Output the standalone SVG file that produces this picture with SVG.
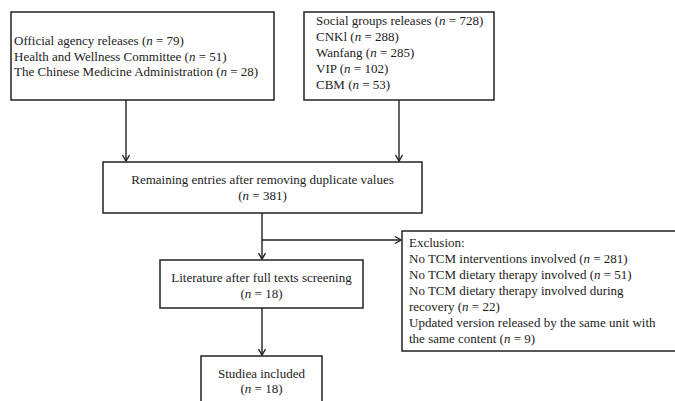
<svg xmlns="http://www.w3.org/2000/svg" width="675" height="401" viewBox="0 0 675 401">
<defs>
<marker id="arr" markerWidth="10" markerHeight="10" refX="8" refY="5" orient="auto" markerUnits="userSpaceOnUse">
<polyline points="2,1.5 8,5 2,8.5" fill="none" stroke="#222" stroke-width="1.4"/>
</marker>
<style>
rect{fill:#fff;stroke:#222;stroke-width:1.5}
text{font-family:"Liberation Serif","Times New Roman",serif;font-size:13px;fill:#222}
.c{text-anchor:middle}
.conn line{stroke:#222;stroke-width:1.4}
</style>
</defs>
<rect x="0" y="0" width="675" height="401" style="fill:#fff;stroke:none"/>
<g class="conn">
<line x1="126" y1="100" x2="126" y2="161" marker-end="url(#arr)"/>
<line x1="399" y1="100" x2="399" y2="161" marker-end="url(#arr)"/>
<line x1="262" y1="213" x2="262" y2="259" marker-end="url(#arr)"/>
<line x1="262" y1="240" x2="401" y2="240" marker-end="url(#arr)"/>
<line x1="262" y1="308" x2="262" y2="355" marker-end="url(#arr)"/>
</g>
<g id="official">
<rect x="11" y="12" width="263" height="88"/>
<text x="14" y="45">Official agency releases (<tspan font-style="italic">n</tspan> = 79)</text>
<text x="14" y="61">Health and Wellness Committee (<tspan font-style="italic">n</tspan> = 51)</text>
<text x="14" y="76">The Chinese Medicine Administration (<tspan font-style="italic">n</tspan> = 28)</text>
</g>
<g id="social">
<rect x="304" y="12" width="190" height="88"/>
<text x="316" y="25">Social groups releases (<tspan font-style="italic">n</tspan> = 728)</text>
<text x="316" y="41">CNKl (<tspan font-style="italic">n</tspan> = 288)</text>
<text x="316" y="57">Wanfang (<tspan font-style="italic">n</tspan> = 285)</text>
<text x="316" y="73">VIP (<tspan font-style="italic">n</tspan> = 102)</text>
<text x="316" y="89">CBM (<tspan font-style="italic">n</tspan> = 53)</text>
</g>
<g id="remaining">
<rect x="103" y="162" width="319" height="51"/>
<text class="c" x="262.5" y="184">Remaining entries after removing duplicate values</text>
<text class="c" x="262.5" y="200">(<tspan font-style="italic">n</tspan> = 381)</text>
</g>
<g id="exclusion">
<rect x="402" y="231" width="300" height="120"/>
<text x="409" y="247">Exclusion:</text>
<text x="409" y="263">No TCM interventions involved (<tspan font-style="italic">n</tspan> = 281)</text>
<text x="409" y="279">No TCM dietary therapy involved (<tspan font-style="italic">n</tspan> = 51)</text>
<text x="409" y="295">No TCM dietary therapy involved during</text>
<text x="409" y="311">recovery (<tspan font-style="italic">n</tspan> = 22)</text>
<text x="409" y="327">Updated version released by the same unit with</text>
<text x="409" y="343">the same content (<tspan font-style="italic">n</tspan> = 9)</text>
</g>
<g id="literature">
<rect x="160" y="260" width="203" height="48"/>
<text class="c" x="261.5" y="282">Literature after full texts screening</text>
<text class="c" x="261.5" y="298">(<tspan font-style="italic">n</tspan> = 18)</text>
</g>
<g id="included">
<rect x="201" y="356" width="121" height="60"/>
<text class="c" x="261.5" y="378">Studiea included</text>
<text class="c" x="261.5" y="393">(<tspan font-style="italic">n</tspan> = 18)</text>
</g>
</svg>
